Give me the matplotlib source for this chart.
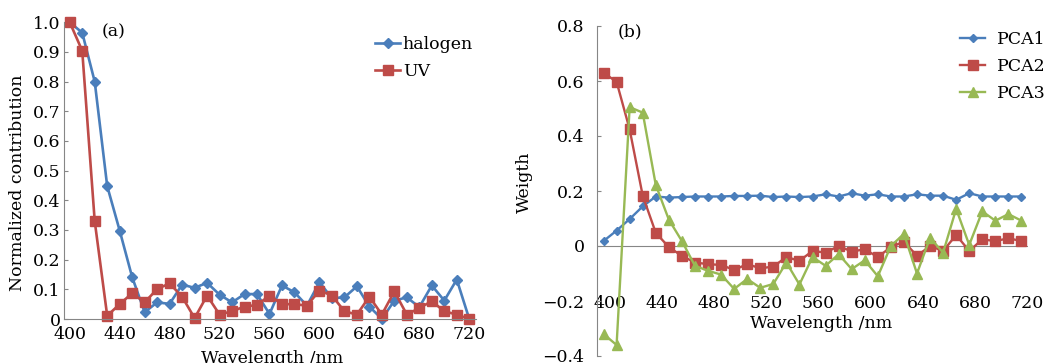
import matplotlib
matplotlib.use('Agg')
import matplotlib.pyplot as plt
from matplotlib.transforms import ScaledTranslation

# --- data ---
wavelength = list(range(400, 721, 10))

halogen = [1.0, 0.965, 0.80, 0.448, 0.298, 0.141, 0.023, 0.056, 0.051, 0.116,
           0.105, 0.122, 0.082, 0.056, 0.084, 0.084, 0.017, 0.113, 0.090, 0.045,
           0.124, 0.070, 0.073, 0.110, 0.042, 0.0, 0.062, 0.073, 0.040, 0.113,
           0.062, 0.133, 0.0]
uv = [1.0, 0.904, 0.33, 0.011, 0.050, 0.087, 0.056, 0.101, 0.120, 0.075,
      0.003, 0.079, 0.015, 0.026, 0.042, 0.047, 0.079, 0.050, 0.050, 0.045,
      0.096, 0.079, 0.026, 0.015, 0.075, 0.015, 0.093, 0.015, 0.037, 0.060,
      0.026, 0.015, 0.0]

pca1 = [0.018, 0.056, 0.098, 0.144, 0.180, 0.176, 0.178, 0.180, 0.180, 0.180,
        0.182, 0.182, 0.183, 0.178, 0.180, 0.178, 0.180, 0.188, 0.180, 0.192,
        0.183, 0.188, 0.180, 0.180, 0.188, 0.183, 0.183, 0.168, 0.192, 0.180,
        0.180, 0.180, 0.180]
pca2 = [0.630, 0.597, 0.424, 0.183, 0.048, -0.004, -0.036, -0.060, -0.066, -0.069,
        -0.087, -0.066, -0.081, -0.075, -0.040, -0.054, -0.018, -0.024, 0.0, -0.020,
        -0.012, -0.040, -0.004, 0.016, -0.036, 0.0, -0.018, 0.040, -0.018, 0.024,
        0.018, 0.028, 0.018]
pca3 = [-0.32, -0.36, 0.505, 0.485, 0.222, 0.096, 0.018, -0.072, -0.090, -0.104,
        -0.156, -0.120, -0.152, -0.138, -0.060, -0.140, -0.040, -0.072, -0.030, -0.084,
        -0.052, -0.110, 0.0, 0.044, -0.100, 0.030, -0.024, 0.135, 0.004, 0.126,
        0.092, 0.116, 0.092]

x_ticks = [400, 440, 480, 520, 560, 600, 640, 680, 720]
a_yticks = [0, 0.1, 0.2, 0.3, 0.4, 0.5, 0.6, 0.7, 0.8, 0.9, 1.0]
a_ylabels = ['0', '0.1', '0.2', '0.3', '0.4', '0.5', '0.6', '0.7', '0.8', '0.9', '1.0']
b_yticks = [-0.4, -0.2, 0, 0.2, 0.4, 0.6, 0.8]
b_ylabels = ['\u22120.4', '\u22120.2', '0', '0.2', '0.4', '0.6', '0.8']

blue = '#4a7ebb'
red = '#be4b48'
green = '#98b954'
axis_gray = '#868686'

plt.rcParams['font.family'] = 'DejaVu Serif'
plt.rcParams['font.size'] = 12.5

W, H = 1050, 363
fig = plt.figure(figsize=(W / 100, H / 100), dpi=100)

# --- (a) ---
ax1 = fig.add_axes([63.5 / W, 1 - 319 / H, 412 / W, 296.7 / H])
ax1.plot(wavelength, halogen, color=blue, lw=1.9, marker='D', ms=5.2,
         clip_on=False, label='halogen')
ax1.plot(wavelength, uv, color=red, lw=1.9, marker='s', ms=7,
         clip_on=False, label='UV')
ax1.set_xlim(395, 725)
ax1.set_ylim(0, 1)
for s in ['top', 'right']:
    ax1.spines[s].set_visible(False)
for s in ['left', 'bottom']:
    ax1.spines[s].set_color(axis_gray)
    ax1.spines[s].set_linewidth(0.8)
ax1.set_xticks(x_ticks)
ax1.tick_params(axis='x', length=0, pad=5)
ax1.set_yticks(a_yticks, a_ylabels)
ax1.tick_params(axis='y', direction='in', length=3, pad=2, color=axis_gray)
ax1.set_xlabel('Wavelength /nm', va='center')
ax1.xaxis.set_label_coords(0.506, -0.132)
ax1.set_ylabel('Normalized contribution', va='center')
ax1.yaxis.set_label_coords(-0.112, 0.458)
ax1.legend(loc='upper left', bbox_to_anchor=(375 / W, 1 - 36 / H),
           bbox_transform=fig.transFigure, frameon=False, borderpad=0,
           borderaxespad=0, handlelength=1.45, handletextpad=0.15,
           labelspacing=0.6)
fig.text(101.7 / W, 1 - 31.7 / H, '(a)', va='center', ha='left')

# --- (b) ---
ax2 = fig.add_axes([597 / W, 1 - 356 / H, 431 / W, 330 / H])
ax2.axhline(0, color=axis_gray, lw=0.8, zorder=1)
ax2.plot(wavelength, pca1, color=blue, lw=1.7, marker='D', ms=4.2, label='PCA1')
ax2.plot(wavelength, pca2, color=red, lw=1.7, marker='s', ms=7, label='PCA2')
ax2.plot(wavelength, pca3, color=green, lw=1.7, marker='^', ms=6.5, label='PCA3')
ax2.set_xlim(395, 725)
ax2.set_ylim(-0.4, 0.8)
for s in ['top', 'right', 'bottom']:
    ax2.spines[s].set_visible(False)
ax2.spines['left'].set_color(axis_gray)
ax2.spines['left'].set_linewidth(0.8)
ax2.spines['bottom'].set_position(('data', -0.18))
ax2.set_xticks(x_ticks)
ax2.tick_params(axis='x', length=0, pad=0)
# category labels in (b) sit a little right of their points
shift = ScaledTranslation(6 / 100, 0, fig.dpi_scale_trans)
for lbl in ax2.get_xticklabels():
    lbl.set_transform(lbl.get_transform() + shift)
ax2.set_yticks(b_yticks, b_ylabels)
ax2.tick_params(axis='y', direction='in', length=3, pad=9, color=axis_gray)
ax2.set_xlabel('Wavelength /nm', va='center')
ax2.xaxis.set_label_coords(0.52, 0.097)
ax2.set_ylabel('Weigth', va='center')
ax2.yaxis.set_label_coords(-0.168, 0.527)
ax2.legend(loc='upper left', bbox_to_anchor=(960 / W, 1 - 31.5 / H),
           bbox_transform=fig.transFigure, frameon=False, borderpad=0,
           borderaxespad=0, handlelength=1.45, handletextpad=0.67,
           labelspacing=0.57)
fig.text(618 / W, 1 - 31.7 / H, '(b)', va='center', ha='left')

fig.savefig('out.png', dpi=100)
